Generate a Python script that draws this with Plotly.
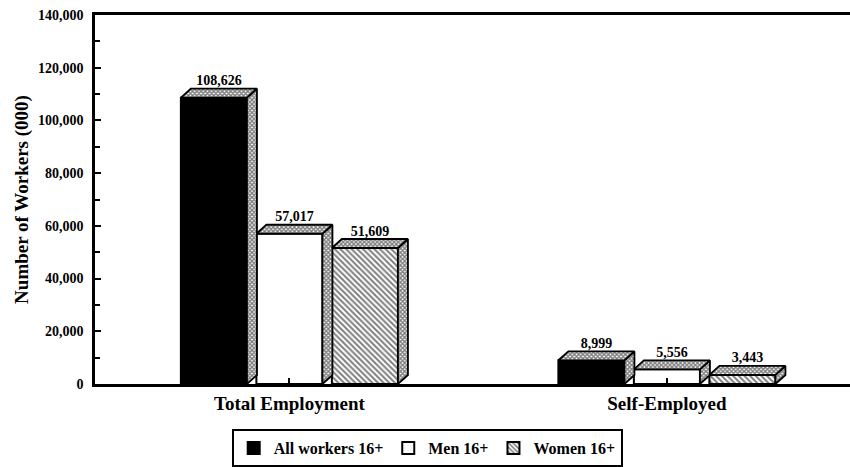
import plotly.graph_objects as go

categories = ["Total Employment", "Self-Employed"]
series_names = ["All workers 16+", "Men 16+", "Women 16+"]
all_workers = [108626, 8999]
men = [57017, 5556]
women = [51609, 3443]
series_values = [all_workers, men, women]
y_ticks = [0, 20000, 40000, 60000, 80000, 100000, 120000, 140000]

FONT = "Liberation Serif"
W, H = 850, 467
ML, MR, MT, MB = 95, 0, 15, 82
plot_w = W - ML - MR
plot_h = H - MT - MB
XR = [-0.015, 1.985]
YR = [0, 140000]
px_per_x = plot_w / (XR[1] - XR[0])
px_per_y = plot_h / (YR[1] - YR[0])
DX = 10 / px_per_x
DY = 9 / px_per_y

BAR_W = 0.175
STEP = 0.2
cat_x = [0.5, 1.5]

fig = go.Figure()

front_styles = [
    dict(color="black", pattern=dict(shape="")),
    dict(color="white", pattern=dict(shape="")),
    dict(color="white", pattern=dict(shape="\\", fgcolor="black", bgcolor="white", size=4, solidity=0.5)),
]

side_x, side_y, top_x, top_y = [], [], [], []
lab_x, lab_y, lab_t = [], [], []
for i, (name, vals) in enumerate(zip(series_names, series_values)):
    off = -0.2875 + i * STEP
    st = front_styles[i]
    fig.add_trace(go.Bar(
        x=cat_x, y=vals, width=BAR_W, offset=off, name=name,
        marker=dict(color=st["color"], pattern=st["pattern"],
                    line=dict(color="black", width=2)),
    ))
    for cx, v in zip(cat_x, vals):
        xl = cx + off
        xr = xl + BAR_W
        side_x += [xr, xr + DX, xr + DX, xr, xr, None]
        side_y += [0, DY, v + DY, v, 0, None]
        top_x += [xl, xr, xr + DX, xl + DX, xl, None]
        top_y += [v, v, v + DY, v + DY, v, None]
        lab_x.append((xl + xr + DX) / 2)
        lab_y.append(v + DY)
        lab_t.append(f"{v:,}")

dots = dict(shape="x", fgcolor="black", bgcolor="white", size=3, solidity=0.7)
for xs, ys in [(side_x, side_y), (top_x, top_y)]:
    fig.add_trace(go.Scatter(
        x=xs, y=ys, mode="lines", fill="toself", fillcolor="white",
        fillpattern=dots, line=dict(color="black", width=1.8),
        showlegend=False, hoverinfo="skip",
    ))

fig.add_trace(go.Scatter(
    x=lab_x, y=lab_y, mode="text", text=lab_t, textposition="top center",
    textfont=dict(family=FONT, size=14, color="black", weight="bold"),
    showlegend=False, hoverinfo="skip",
))

fig.update_layout(
    width=W, height=H,
    margin=dict(l=ML, r=MR, t=MT, b=MB),
    paper_bgcolor="white", plot_bgcolor="white",
    barmode="overlay",
    font=dict(family=FONT, color="black", weight="bold"),
    showlegend=True,
    legend=dict(
        orientation="h", x=0.44, xanchor="center", y=-0.122, yanchor="top",
        bordercolor="black", borderwidth=2, bgcolor="white",
        font=dict(family=FONT, size=16, color="black", weight="bold"),
        itemwidth=30, tracegroupgap=0,
    ),
    xaxis=dict(
        range=XR, tickvals=cat_x, ticktext=categories,
        showline=True, linecolor="black", linewidth=2.5, mirror=True,
        ticks="inside", ticklen=6, tickwidth=1.5, tickcolor="black",
        showgrid=False, zeroline=False,
        tickfont=dict(family=FONT, size=19, color="black", weight="bold"),
    ),
    yaxis=dict(
        range=YR, tickvals=y_ticks, tickformat=",d",
        showline=True, linecolor="black", linewidth=2.5,
        ticks="inside", ticklen=6, tickwidth=1.5, tickcolor="black",
        minor=dict(dtick=10000, ticks="inside", ticklen=5, tickwidth=1.5, tickcolor="black"),
        showgrid=False, zeroline=False, ticklabelstandoff=6,
        tickfont=dict(family=FONT, size=14, color="black", weight="bold"),
        title=dict(text="Number of Workers (000)", standoff=5,
                   font=dict(family=FONT, size=19, color="black", weight="bold")),
    ),
)

fig.write_html("out.html", config={"displayModeBar": False},
               post_script="document.body.style.margin='0';")
